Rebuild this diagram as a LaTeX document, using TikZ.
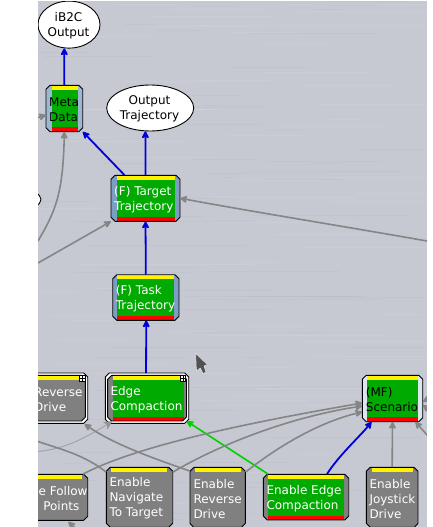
\documentclass[tikz,border=0pt]{standalone}
\usepackage{fontspec}
\setmainfont{DejaVu Sans}
\usetikzlibrary{arrows.meta,shapes.geometric,calc}
\definecolor{metal}{HTML}{C6C9D2}
\definecolor{behgreen}{HTML}{00AA00}
\definecolor{behgrey}{HTML}{808080}
\definecolor{linkgrey}{HTML}{858585}
\definecolor{linkblue}{HTML}{0000DC}
\definecolor{linkgreen}{HTML}{00D000}
\definecolor{sideA}{HTML}{9DB7D3}
\definecolor{sideB}{HTML}{7C9EC2}
\definecolor{sideC}{HTML}{DCE6EE}
\newcommand\behcol[4]{\def\bs{#1}\def\bi{#2}\def\bl{#3}\def\bt{#4}}
\newcommand\octa[4]{(#1+4,#2) -- (#3-4,#2) -- (#3,#2+4) -- (#3,#4-4) -- (#3-4,#4) -- (#1+4,#4) -- (#1,#4-4) -- (#1,#2+4) -- cycle}
% name x1 y1 x2 y2 ix1 ix2 textx text
\newcommand\behnode[9]{%
  \begin{scope}
    \clip \octa{#2}{#3}{#4}{#5};
    \fill[\bs] (#2,#3) rectangle (#4,#5);
    \fill[\bi] (#6,#3) rectangle (#7,#5);
    \fill[yellow] (#6,#3) rectangle (#7,#3+4.6);
    \fill[\bl] (#6,#5-4.4) rectangle (#7,#5);
  \end{scope}
  \draw[boxline] \octa{#2}{#3}{#4}{#5};
  \pgfmathsetmacro\bw{#4-#2}\pgfmathsetmacro\bh{#5-#3}
  \pgfmathsetmacro\bx{(#2+#4)/2}\pgfmathsetmacro\by{(#3+#5)/2}
  \node[anchorbox,minimum width=\bw pt,minimum height=\bh pt] (#1) at (\bx,\by) {};
  \node[behtext,text=\bt] (#1-t) at (#8,\by+1.2) {#9};
}
\tikzset{
  boxline/.style={draw=black,line width=0.9pt,line join=round},
  anchorbox/.style={rectangle,inner sep=0pt,draw=none},
  behtext/.style={anchor=west,align=left,inner sep=0pt,font=\fontsize{12}{15}\selectfont},
  outshape/.style={ellipse,draw=black,fill=white,line width=0.9pt,inner sep=0pt},
  outtext/.style={inner sep=0pt,align=center,text=black,font=\fontsize{12}{15}\selectfont},
  tip/.style={-{Stealth[length=8.5pt,width=8.5pt,inset=2pt,round]}},
  blue link/.style={tip,draw=linkblue,line width=1.8pt},
  grey link/.style={tip,draw=linkgrey,line width=1.6pt},
  plain link/.style={draw=linkgrey,line width=1.6pt},
  faint link/.style={draw=linkgrey!55!metal,line width=1pt,-{Stealth[length=8.5pt,width=8.5pt,inset=2pt,color=linkgrey!80!metal]}},
  green link/.style={tip,draw=linkgreen,line width=1.6pt},
  plusbox/.style={rectangle,draw=black,fill=white,line width=0.7pt,minimum size=5.5pt,inner sep=0pt,
    path picture={\draw[black,line width=0.9pt] (path picture bounding box.west) -- (path picture bounding box.east)
      (path picture bounding box.north) -- (path picture bounding box.south);}},
}
\begin{document}
\begin{tikzpicture}[x=1pt,y=-1pt]
\useasboundingbox (0,0) rectangle (433,527);
\fill[metal] (38,1) rectangle (427,527);
\pgfmathsetseed{11}
\foreach \i in {1,...,140}{
  \pgfmathsetmacro\sy{1+rnd*526}
  \pgfmathsetmacro\sx{38+rnd*330}
  \pgfmathsetmacro\sl{30+rnd*150}
  \pgfmathsetmacro\sxe{min(427,\sx+\sl)}
  \pgfmathparse{int(mod(\i,2))}
  \ifnum\pgfmathresult=0
    \draw[white,opacity=.09,line width=.8pt] (\sx,\sy) -- (\sxe,\sy);
  \else
    \draw[black,opacity=.025,line width=.8pt] (\sx,\sy) -- (\sxe,\sy);
  \fi
}
% ellipses
\node[outshape,minimum width=62pt,minimum height=47pt] (ib2c) at (69,24.6) {};
\node[outtext] (ib2c-t) at (68.5,25.8) {iB2C\\Output};
\node[outshape,minimum width=87pt,minimum height=46pt] (outtraj) at (150.2,108) {};
\node[outtext] (outtraj-t) at (149.5,109.2) {Output\\Trajectory};
\node[outshape,minimum width=40pt,minimum height=20pt] (hidden) at (21,199.5) {};
% active behaviours
\behcol{sideA}{behgreen}{red}{black}
\behnode{meta}{46}{85.3}{82.7}{131.7}{51.7}{77.7}{49}{Meta\\Data}
\behcol{sideB}{behgreen}{red}{white}
\behnode{target}{111}{175.3}{180}{221.3}{116.7}{174.7}{114}{(F) Target\\Trajectory}
\behnode{task}{112.7}{274.7}{179}{320.3}{117.3}{174.3}{115.7}{(F) Task\\Trajectory}
\behcol{sideC}{behgreen}{red}{black}
\behnode{scenario}{362.3}{375.3}{422.7}{421.7}{367.3}{417.7}{365.7}{(MF)\\Scenario}
\behcol{behgrey}{behgreen}{red}{white}
\behnode{enedge}{263.3}{474.3}{348.7}{520}{268.3}{343.7}{266.3}{Enable Edge\\Compaction}
\draw[boxline,fill=white] \octa{105.3}{373}{188.7}{423.3};
\behnode{edge}{107.6}{375.3}{186.5}{421}{112.7}{184}{110.3}{Edge\\Compaction}
\node[plusbox] (edgeplus) at (183,378.2) {};
% inactive behaviours
\behcol{behgrey}{behgrey}{behgrey}{white}
\draw[boxline,fill=white] \octa{20}{373}{87.7}{423.3};
\behnode{reverse}{20}{375.3}{85.4}{421}{20}{85.4}{34}{Reverse\\Drive}
\node[plusbox] (revplus) at (82.4,378.2) {};
\behnode{follow}{15}{474.3}{87.7}{520.3}{15}{82.3}{38.5}{e Follow\\\hspace*{4.6pt}Points}
\behnode{navigate}{106.3}{467.3}{172.7}{527.4}{111}{167.3}{109.3}{Enable\\Navigate\\To Target}
\behnode{enrev}{190}{467.3}{245.3}{527.4}{195}{240.7}{193.3}{Enable\\Reverse\\Drive}
\behnode{joystick}{366.3}{467.3}{418}{527.4}{371.7}{412.7}{369.3}{Enable\\Joystick\\Drive}
% free ends
\coordinate (l1) at (38,117.5);
\coordinate (l2) at (38,241);
\coordinate (l3) at (38,263);
\coordinate (l4) at (38,441.5);
\coordinate (l5) at (38,451.5);
\coordinate (r1) at (427,241);
\coordinate (r2) at (428,399);
\coordinate (r2b) at (428,409);
\coordinate (r3) at (428,436);
\coordinate (b1) at (75,528);
\coordinate (ib2cend) at (64.3,48.4);
\coordinate (outend) at (145.4,131.4);
% blue and green links
\draw[blue link] (meta.north) -- (ib2cend);
\draw[blue link] (target.north) -- (outend);
\draw[blue link] ([xshift=-21pt]target.north) -- (meta.south east);
\draw[blue link] (task.north) -- (target.south);
\draw[blue link] ([xshift=-1pt,yshift=2pt]edge.north) -- ([xshift=0.4pt]task.south);
\draw[blue link] ([xshift=21pt]enedge.north) .. controls ([xshift=33pt,yshift=19pt]enedge.north) and ([xshift=-33pt,yshift=-15pt]scenario.south) .. ([xshift=-21pt]scenario.south);
\draw[green link] ([xshift=5pt]enedge.north west) -- (edge.south east);
% grey links
\draw[grey link] (l1) -- ([yshift=-6.5pt]meta.west);
\draw[grey link] (l2) .. controls (55,212) and (63,195) .. (meta.south);
\draw[grey link] (l3) -- (target.south west);
\draw[grey link] (r1) .. controls (330,224) and (260,213) .. (target.east);
\draw[grey link] (joystick.north) -- (scenario.south);
\draw[grey link] (r2) -- ([yshift=-26.5pt]scenario.north east);
\draw[grey link] (r2b) -- ([yshift=-30pt]scenario.north east);
\draw[grey link] (r3) -- ([xshift=-7.5pt]scenario.south east);
\draw[grey link] (b1) -- ([xshift=17pt,yshift=-1.4pt]follow.south);
\draw[faint link] (l5) .. controls (65,449) and (85,438) .. ([xshift=5pt]edge.south west);
\draw[plain link] (l4) .. controls (60,449) and (85,455) .. ([yshift=-5pt]navigate.north west);
\draw[grey link] ([yshift=-4pt]enrev.north west) .. controls (165,462) and (118,447) .. ([xshift=-1pt,yshift=-3pt]reverse.south east);
\draw[grey link] ([xshift=-5pt]follow.north east) .. controls (135,447) and (235,425) .. ([yshift=-4.5pt]scenario.west);
\draw[grey link] ([yshift=-5pt]navigate.north east) .. controls (215,447) and (285,418) .. ([yshift=-7.5pt]scenario.west);
\draw[grey link] ([yshift=-5pt]enrev.north east) .. controls (280,445) and (320,422) .. ([yshift=-13.5pt]scenario.west);
% cursor
\fill[black!68,draw=white!60!metal,line width=.5pt,line join=round] (195.7,353.3) -- (207.5,364.8) -- (204,366) -- (206,372) -- (203,373.6) -- (200.3,368) -- (196.4,371) -- cycle;
% margins
\fill[white] (0,0) rectangle (38,527);
\fill[white] (427,0) rectangle (433,527);
\fill[white] (0,0) rectangle (433,1);
\end{tikzpicture}
\end{document}
